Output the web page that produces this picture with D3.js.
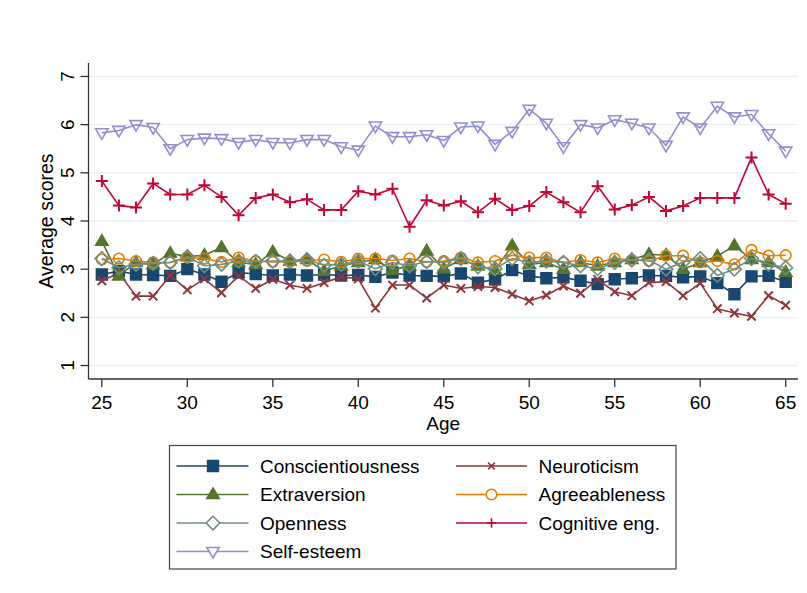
<!DOCTYPE html>
<html>
<head>
<meta charset="utf-8">
<script src="https://cdn.jsdelivr.net/npm/d3@7"></script>
<style>
  html, body { margin: 0; padding: 0; background: #ffffff; }
  svg { display: block; font-family: "Liberation Sans", Arial, Helvetica, sans-serif; }
</style>
</head>
<body>
<svg id="chart" width="807" height="593"></svg>
<script>
const ages = d3.range(25, 66);
const conscientiousness = [2.89,2.96,2.89,2.88,2.86,3.00,2.89,2.74,2.93,2.90,2.87,2.89,2.87,2.89,2.87,2.88,2.84,2.93,2.87,2.86,2.85,2.91,2.72,2.79,2.98,2.86,2.81,2.83,2.76,2.69,2.79,2.81,2.87,2.86,2.83,2.85,2.71,2.48,2.85,2.86,2.74];
const neuroticism = [2.76,2.92,2.44,2.44,2.87,2.57,2.80,2.51,2.86,2.60,2.79,2.67,2.60,2.72,2.84,2.80,2.19,2.67,2.67,2.40,2.67,2.60,2.64,2.62,2.48,2.34,2.46,2.65,2.50,2.79,2.53,2.45,2.72,2.74,2.45,2.71,2.18,2.09,2.02,2.45,2.25];
const extraversion = [3.58,2.86,3.14,3.10,3.33,3.26,3.29,3.45,3.14,3.10,3.36,3.17,3.20,2.96,3.07,3.14,3.20,2.98,3.07,3.38,3.01,3.20,3.07,2.98,3.49,3.10,3.14,3.00,3.14,3.07,3.14,3.20,3.31,3.29,3.00,3.14,3.27,3.49,3.20,3.14,2.94];
const agreeableness = [3.20,3.22,3.17,3.14,3.14,3.24,3.22,3.15,3.24,3.17,3.15,3.15,3.17,3.20,3.15,3.22,3.22,3.18,3.22,3.15,3.17,3.24,3.14,3.17,3.29,3.24,3.24,3.14,3.19,3.14,3.22,3.19,3.17,3.28,3.28,3.14,3.17,3.10,3.40,3.28,3.29];
const openness = [3.22,3.03,3.10,3.12,3.14,3.26,3.07,3.10,3.17,3.16,3.17,3.17,3.20,3.08,3.10,3.17,3.01,3.14,3.07,3.16,3.14,3.22,3.05,3.01,3.22,3.14,3.17,3.14,3.07,3.01,3.14,3.19,3.19,3.00,3.15,3.22,2.87,3.00,3.22,3.10,3.03];
const cognitiveEng = [4.83,4.32,4.28,4.78,4.55,4.55,4.74,4.50,4.12,4.48,4.55,4.39,4.45,4.23,4.23,4.62,4.55,4.67,3.88,4.43,4.32,4.41,4.18,4.46,4.23,4.31,4.60,4.39,4.18,4.72,4.24,4.33,4.50,4.21,4.31,4.48,4.48,4.48,5.32,4.55,4.36];
const selfEsteem = [5.83,5.88,6.00,5.94,5.50,5.69,5.72,5.71,5.63,5.69,5.63,5.62,5.69,5.69,5.54,5.47,5.97,5.75,5.75,5.79,5.67,5.95,5.97,5.59,5.86,6.32,6.03,5.54,6.00,5.93,6.10,6.03,5.93,5.57,6.16,5.93,6.38,6.16,6.21,5.81,5.45];

const yTicks = [1,2,3,4,5,6,7];
const xTicks = [25,30,35,40,45,50,55,60,65];

// draw order (Stata order)
const seriesNames = ["Conscientiousness","Neuroticism","Extraversion","Agreeableness","Openness","Cognitive eng.","Self-esteem"];
const seriesValues = [conscientiousness, neuroticism, extraversion, agreeableness, openness, cognitiveEng, selfEsteem];
const seriesColors = ["#1a476f","#90353b","#55752f","#e37e00","#6e8e84","#c10534","#938dd2"];
const seriesMarkers = ["square","x","triangle","circle","diamond","plus","tridown"];
// legend layout: rows, two columns
const legendOrder = [[0,1],[2,3],[4,5],[6]];

const svg = d3.select("#chart");
const pLeft = 88.5, pRight = 798, pTop = 63, pBottom = 379;

const x = d3.scaleLinear().domain([24.22, 65.72]).range([pLeft, pRight]);
const y = d3.scaleLinear().domain([0.72, 7.28]).range([pBottom, pTop]);

// gridlines
svg.append("g").selectAll("line").data(yTicks).join("line")
  .attr("x1", pLeft).attr("x2", pRight)
  .attr("y1", d => y(d)).attr("y2", d => y(d))
  .attr("stroke", "#e9f1f2").attr("stroke-width", 1.3);

// marker path
function markerPath(type, cx, cy, s) {
  const p = d3.path();
  if (type === "square") {
    const h = 5.4 * s;
    p.rect(cx - h, cy - h, 2*h, 2*h);
  } else if (type === "circle") {
    const r = 5.3 * s;
    p.moveTo(cx + r, cy); p.arc(cx, cy, r, 0, 2*Math.PI);
  } else if (type === "triangle") {
    const h = 6.5 * s;
    p.moveTo(cx, cy - h); p.lineTo(cx + h*0.95, cy + h*0.62); p.lineTo(cx - h*0.95, cy + h*0.62); p.closePath();
  } else if (type === "tridown") {
    const h = 6.5 * s;
    p.moveTo(cx, cy + h); p.lineTo(cx + h*0.95, cy - h*0.62); p.lineTo(cx - h*0.95, cy - h*0.62); p.closePath();
  } else if (type === "diamond") {
    const h = 6.8 * s;
    p.moveTo(cx, cy - h); p.lineTo(cx + h, cy); p.lineTo(cx, cy + h); p.lineTo(cx - h, cy); p.closePath();
  } else if (type === "x") {
    const h = 4.2 * s;
    p.moveTo(cx - h, cy - h); p.lineTo(cx + h, cy + h);
    p.moveTo(cx - h, cy + h); p.lineTo(cx + h, cy - h);
  } else if (type === "plus") {
    const h = 6 * s;
    p.moveTo(cx - h, cy); p.lineTo(cx + h, cy);
    p.moveTo(cx, cy - h); p.lineTo(cx, cy + h);
  }
  return p.toString();
}
function markerFill(type, color) {
  if (type === "square" || type === "triangle") return color;
  return "none";
}

const line = d3.line().x((d, i) => x(ages[i])).y(d => y(d));

seriesValues.forEach((vals, k) => {
  const g = svg.append("g");
  const col = seriesColors[k], mk = seriesMarkers[k];
  g.append("path").attr("d", line(vals)).attr("fill", "none")
    .attr("stroke", col).attr("stroke-width", 1.6).attr("stroke-linejoin", "round");
  g.selectAll("path.m").data(vals).join("path").attr("class", "m")
    .attr("d", (d, i) => markerPath(mk, x(ages[i]), y(d), 1))
    .attr("fill", markerFill(mk, col))
    .attr("stroke", col)
    .attr("stroke-width", (mk === "x" || mk === "plus") ? 2 : 1.6);
});

// axes
const axisCol = "#333";
svg.append("line").attr("x1", pLeft).attr("x2", pLeft).attr("y1", pTop).attr("y2", pBottom)
  .attr("stroke", axisCol).attr("stroke-width", 1.3);
svg.append("line").attr("x1", pLeft).attr("x2", pRight).attr("y1", pBottom).attr("y2", pBottom)
  .attr("stroke", axisCol).attr("stroke-width", 1.3);

const fs = 19;
// y ticks
const yt = svg.append("g").selectAll("g").data(yTicks).join("g");
yt.append("line").attr("x1", pLeft - 8).attr("x2", pLeft).attr("y1", d => y(d)).attr("y2", d => y(d))
  .attr("stroke", axisCol).attr("stroke-width", 1.3);
yt.append("text")
  .attr("transform", d => `translate(${73.5},${y(d)}) rotate(-90)`)
  .attr("text-anchor", "middle")
  .attr("font-size", fs).attr("fill", "#000")
  .text(d => d);

// x ticks
const xt = svg.append("g").selectAll("g").data(xTicks).join("g");
xt.append("line").attr("x1", d => x(d)).attr("x2", d => x(d)).attr("y1", pBottom).attr("y2", pBottom + 8)
  .attr("stroke", axisCol).attr("stroke-width", 1.3);
xt.append("text").attr("x", d => x(d)).attr("y", 408.5)
  .attr("text-anchor", "middle").attr("font-size", fs).attr("fill", "#000")
  .text(d => d);

// axis titles
svg.append("text").attr("x", (pLeft + pRight) / 2).attr("y", 430)
  .attr("text-anchor", "middle").attr("font-size", fs).attr("fill", "#000").text("Age");
svg.append("text")
  .attr("transform", `translate(${52.5},${(pTop + pBottom) / 2}) rotate(-90)`)
  .attr("text-anchor", "middle").attr("font-size", 19.5).attr("fill", "#000").text("Average scores");

// legend
const lg = svg.append("g");
lg.append("rect").attr("x", 169.5).attr("y", 445.5).attr("width", 506.5).attr("height", 123.5)
  .attr("fill", "#fff").attr("stroke", "#444").attr("stroke-width", 1.2);
const rowY = [466, 494.5, 523, 551.5];
const colX = [{x1: 176.5, x2: 248.5, mx: 213, tx: 260}, {x1: 456, x2: 527, mx: 491.5, tx: 538.5}];
legendOrder.forEach((row, r) => {
  row.forEach((k, c) => {
    const cx = colX[c], yy = rowY[r], col = seriesColors[k], mk = seriesMarkers[k];
    lg.append("line").attr("x1", cx.x1).attr("x2", cx.x2).attr("y1", yy).attr("y2", yy)
      .attr("stroke", col).attr("stroke-width", 1.6);
    lg.append("path").attr("d", markerPath(mk, cx.mx, yy, mk === "x" || mk === "plus" ? 0.8 : 1))
      .attr("fill", (mk === "square" || mk === "triangle") ? col : "#fff")
      .attr("stroke", col).attr("stroke-width", 1.6);
    lg.append("text").attr("x", cx.tx).attr("y", yy).attr("dy", "0.36em")
      .attr("font-size", 19).attr("fill", "#000").text(seriesNames[k]);
  });
});
</script>
</body>
</html>
